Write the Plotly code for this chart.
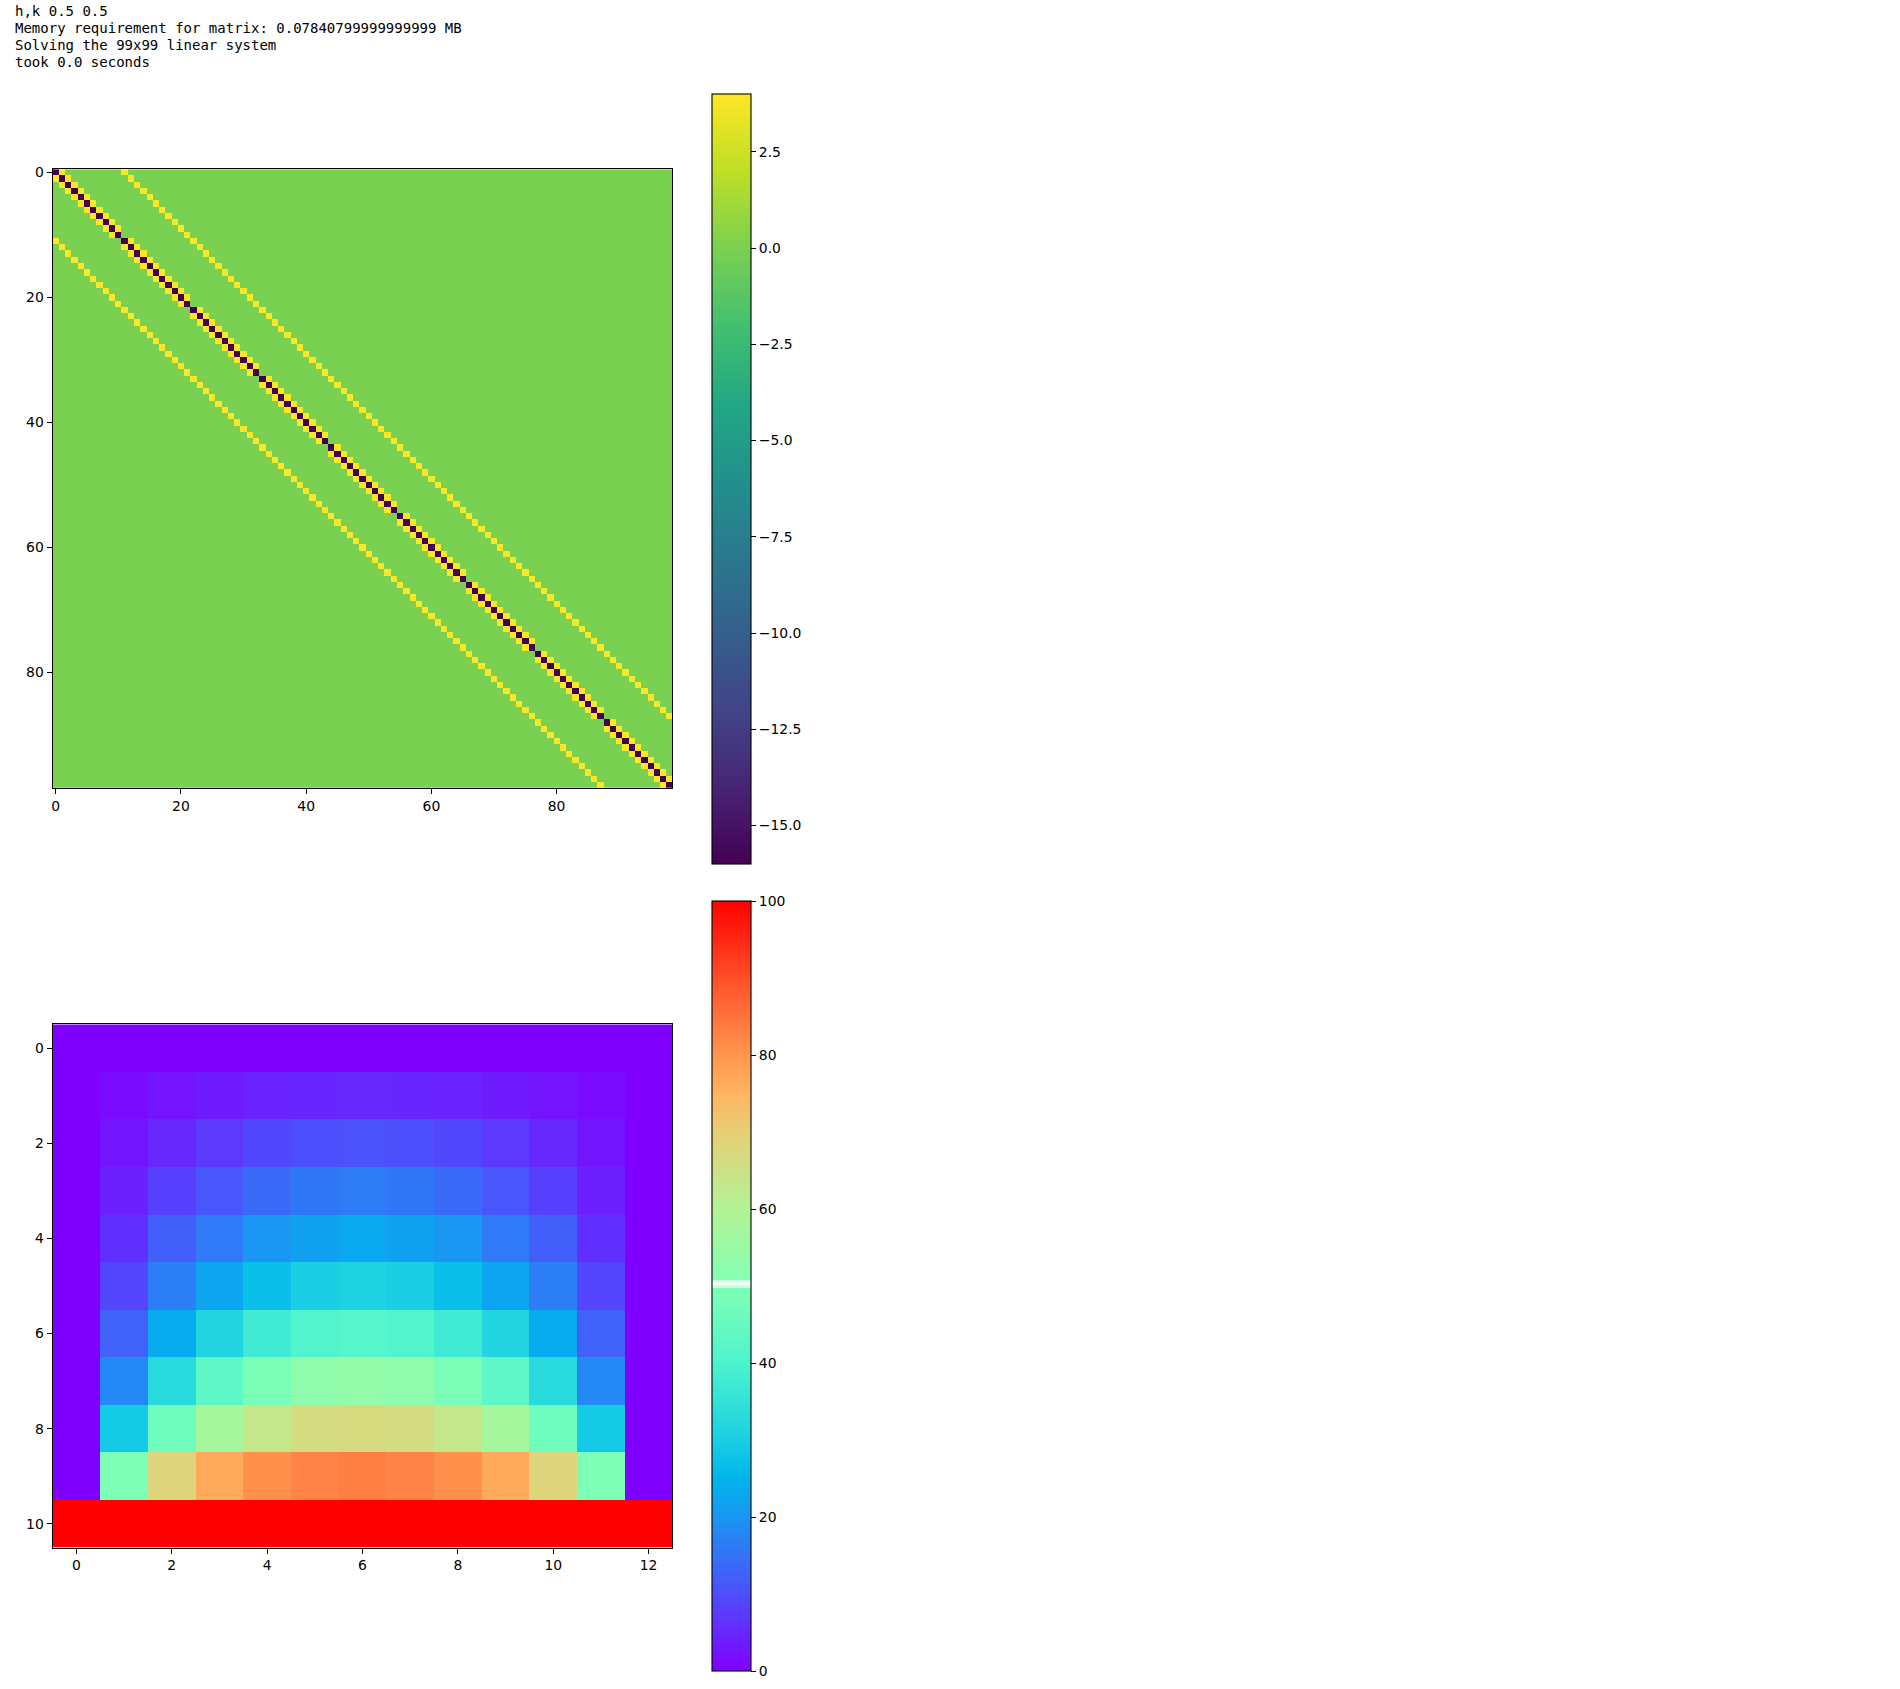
"""Sparse finite-difference matrix and its solution, as two heatmaps."""
import plotly.graph_objects as go

W, H = 1900, 1689

LOG_LINES = [
    "h,k 0.5 0.5",
    "Memory requirement for matrix: 0.07840799999999999 MB",
    "Solving the 99x99 linear system",
    "took 0.0 seconds",
]

# Matrix bands (99x99). Off-diagonal +-1 breaks every 11 cells.
N = 99
MAIN_DIAG = [-16] * 99
NEAR_DIAG = ([4] * 10 + [0]) * 8 + [4] * 10
FAR_DIAG = [4] * 88
FAR_OFFSET = 11

MATRIX_TICKS = [0, 20, 40, 60, 80]

# Solution grid
SOLUTION = [
    [0] * 13,
    [0, 1.2, 2.4, 3.5, 4.4, 4.8, 5.0, 4.8, 4.4, 3.5, 2.4, 1.2, 0],
    [0, 2.5, 5.0, 7.3, 9.0, 10.0, 10.4, 10.0, 9.0, 7.3, 5.0, 2.5, 0],
    [0, 4.0, 7.8, 11.0, 14.0, 15.6, 16.3, 15.6, 14.0, 11.0, 7.8, 4.0, 0],
    [0, 6.0, 12.2, 16.0, 20.0, 22.0, 23.0, 22.0, 20.0, 16.0, 12.2, 6.0, 0],
    [0, 8.8, 16.6, 22.5, 27.0, 30.0, 30.8, 30.0, 27.0, 22.5, 16.6, 8.8, 0],
    [0, 12.5, 23.5, 31.3, 37.5, 40.7, 41.7, 40.7, 37.5, 31.3, 23.5, 12.5, 0],
    [0, 18.0, 33.0, 43.5, 49.0, 53.0, 54.0, 53.0, 49.0, 43.5, 33.0, 18.0, 0],
    [0, 29.0, 47.0, 57.5, 63.5, 66.5, 67.0, 66.5, 63.5, 57.5, 47.0, 29.0, 0],
    [0, 49.5, 68.0, 76.6, 80.7, 82.6, 83.3, 82.6, 80.7, 76.6, 68.0, 49.5, 0],
    [100] * 13,
]
SOLUTION_X_TICKS = [0, 2, 4, 6, 8, 10, 12]
SOLUTION_Y_TICKS = [0, 2, 4, 6, 8, 10]

VIRIDIS = [
    [0.0, "#440154"], [0.1, "#482475"], [0.2, "#414487"], [0.3, "#355f8d"],
    [0.4, "#2a788e"], [0.5, "#21918c"], [0.6, "#22a884"], [0.7, "#44bf70"],
    [0.8, "#7ad151"], [0.9, "#bddf26"], [1.0, "#fde725"],
]
# rainbow, with the pale band the colorbar shows just above 50
RAINBOW = [
    [0.0, "#8000ff"], [0.1, "#4d4ffc"], [0.2, "#1a96f3"], [0.25, "#00b4ec"],
    [0.3, "#1acfe3"], [0.4, "#4df3ce"], [0.497, "#7effb5"], [0.4975, "#c8ffdc"],
    [0.5005, "#c8ffdc"], [0.501, "#f0fff6"], [0.505, "#f0fff6"], [0.5055, "#c8ffdc"],
    [0.508, "#c8ffdc"], [0.5085, "#84ffb2"], [0.6, "#b3f396"], [0.7, "#e6ce74"],
    [0.75, "#ffb462"], [0.8, "#ff964f"], [0.9, "#ff4f28"], [1.0, "#ff0000"],
]

TICK_FONT = dict(family="DejaVu Sans", size=13.9, color="#000000")
MONO_FONT = dict(family="DejaVu Sans Mono", size=14, color="#000000")

matrix = [[0] * N for _ in range(N)]
for i in range(N):
    matrix[i][i] = MAIN_DIAG[i]
for i, v in enumerate(NEAR_DIAG):
    matrix[i][i + 1] = v
    matrix[i + 1][i] = v
for i, v in enumerate(FAR_DIAG):
    matrix[i][i + FAR_OFFSET] = v
    matrix[i + FAR_OFFSET][i] = v


def _colorbar(top, bottom, **kw):
    return dict(
        x=711.3 / W, xanchor="left", xpad=0,
        y=1 - bottom / H, yanchor="bottom", ypad=0,
        len=bottom - top, lenmode="pixels",
        thickness=39.4, thicknessmode="pixels",
        outlinecolor="#000000", outlinewidth=1.1, borderwidth=0,
        ticks="outside", ticklen=5, tickwidth=1.1, tickcolor="#000000",
        tickfont=TICK_FONT,
        **kw,
    )


def _axis(domain, rng, ticks):
    return dict(
        domain=domain, range=rng, tickmode="array", tickvals=ticks,
        ticktext=[str(t) for t in ticks],
        showgrid=False, zeroline=False, showline=True, mirror=True,
        linecolor="#000000", linewidth=1.1,
        ticks="outside", ticklen=5, tickwidth=1.1, tickcolor="#000000",
        tickfont=TICK_FONT,
    )


fig = go.Figure()
fig.add_trace(go.Heatmap(
    z=matrix, colorscale=VIRIDIS, zmin=-16, zmax=4, hoverongaps=False,
    xaxis="x", yaxis="y",
    colorbar=_colorbar(92.1, 861.6, tick0=0, dtick=2.5, tickformat=".1f"),
))
fig.add_trace(go.Heatmap(
    z=SOLUTION, colorscale=RAINBOW, zmin=0, zmax=100,
    xaxis="x2", yaxis="y2",
    colorbar=_colorbar(901, 1671, tick0=0, dtick=20),
))

x_domain = [51.6 / W, 671.8 / W]
fig.update_layout(
    width=W, height=H, autosize=False,
    margin=dict(l=0, r=0, t=0, b=0),
    paper_bgcolor="#ffffff", plot_bgcolor="#ffffff",
    xaxis=_axis(x_domain, [-0.5, 98.5], MATRIX_TICKS) | dict(anchor="y"),
    yaxis=_axis([1 - 785.1 / H, 1 - 164.7 / H], [98.5, -0.5], MATRIX_TICKS) | dict(anchor="x"),
    xaxis2=_axis(x_domain, [-0.5, 12.5], SOLUTION_X_TICKS) | dict(anchor="y2"),
    yaxis2=_axis([1 - 1547.2 / H, 1 - 1022.4 / H], [10.5, -0.5], SOLUTION_Y_TICKS) | dict(anchor="x2"),
)

for n, line in enumerate(LOG_LINES):
    fig.add_annotation(
        text=line, xref="paper", yref="paper", showarrow=False,
        x=13.2 / W, xanchor="left", xshift=0,
        y=1 - (6.2 + 17 * n) / H, yanchor="middle",
        borderpad=0, font=MONO_FONT,
    )

fig.write_html("out.html", config=dict(displayModeBar=False),
               post_script="document.body.style.margin='0';")
